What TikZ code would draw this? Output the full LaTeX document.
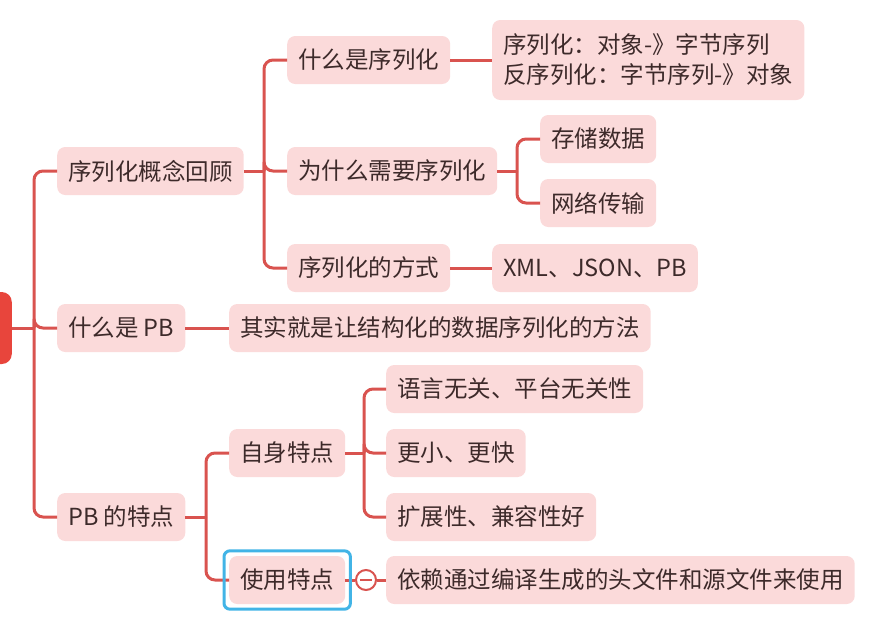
\documentclass[tikz,border=0pt]{standalone}
\usepackage{fontspec}
\setmainfont{Noto Sans CJK SC}
\usepackage{xcolor}
\usetikzlibrary{positioning}

\definecolor{mmred}{HTML}{D9534F}
\definecolor{mmroot}{HTML}{E8453C}
\definecolor{mmpink}{HTML}{FBDADA}
\definecolor{mmtext}{HTML}{3D2A2A}
\definecolor{mmblue}{HTML}{42B4E6}

\begin{document}
\begin{tikzpicture}[x=1pt, y=-1pt,
    topic/.style={fill=mmpink, text=mmtext, rounded corners=8pt, minimum height=48pt,
        inner xsep=11pt, inner ysep=0pt, anchor=west, font=\fontsize{23.5}{30}\selectfont},
    link/.style={draw=mmred, line width=3pt, rounded corners=9pt}]
    \useasboundingbox (0,0) rectangle (876,625);

    % Nodes
    \node[fill=mmroot, rounded corners=10pt, minimum width=40pt, minimum height=72pt, anchor=east] (root) at (12,328) {};

    \node[topic] (review) at (57,171) {序列化概念回顾};
    \node[topic] (whatpb) at (57,328) {什么是 PB};
    \node[topic] (feat)   at (57,517) {PB 的特点};

    \node[topic] (what) at (287,60)  {什么是序列化};
    \node[topic] (why)  at (287,171) {为什么需要序列化};
    \node[topic] (ways) at (287,268) {序列化的方式};

    \node[topic, align=left, minimum height=80pt] (defn) at (492,60) {序列化：对象-》字节序列\\反序列化：字节序列-》对象};
    \node[topic] (store) at (540,139) {存储数据};
    \node[topic] (net)   at (540,203) {网络传输};
    \node[topic] (fmt)   at (492,268) {XML、JSON、PB};

    \node[topic] (pbdef) at (229,328) {其实就是让结构化的数据序列化的方法};

    \node[topic] (self) at (229,453) {自身特点};
    \node[topic] (use)  at (229,580) {使用特点};

    \node[topic] (lang)  at (386,389) {语言无关、平台无关性};
    \node[topic] (small) at (386,453) {更小、更快};
    \node[topic] (ext)   at (386,517) {扩展性、兼容性好};
    \node[topic] (dep)   at (386,580) {依赖通过编译生成的头文件和源文件来使用};

    % Junctions
    \coordinate (j0) at (34,328);
    \coordinate (j1) at (264,171);
    \coordinate (j2) at (517,171);
    \coordinate (j3) at (206,517);
    \coordinate (j4) at (364,453);

    % Paths
    \draw[link] (root.east) -- (j0);
    \foreach \n in {review, whatpb, feat} \draw[link] (j0) |- (\n.west);

    \draw[link] (review.east) -- (j1);
    \foreach \n in {what, why, ways} \draw[link] (j1) |- (\n.west);

    \draw[link] (what.east) -- (defn.west);
    \draw[link] (why.east) -- (j2);
    \foreach \n in {store, net} \draw[link] (j2) |- (\n.west);
    \draw[link] (ways.east) -- (fmt.west);

    \draw[link] (whatpb.east) -- (pbdef.west);

    \draw[link] (feat.east) -- (j3);
    \foreach \n in {self, use} \draw[link] (j3) |- (\n.west);
    \draw[link] (self.east) -- (j4);
    \foreach \n in {lang, small, ext} \draw[link] (j4) |- (\n.west);

    % Collapse dot and selection
    \node[circle, draw=mmred, fill=white, line width=2pt, minimum size=20pt, inner sep=0pt] (dot) at (366,580) {};
    \draw[mmred, line width=2pt] ([xshift=-6pt]dot.center) -- ([xshift=6pt]dot.center);
    \draw[link] (use.east) -- (dot.west);
    \draw[link] (dot.east) -- (dep.west);
    \draw[mmblue, line width=3pt, rounded corners=6pt] ([shift={(-5,5)}]use.south west) rectangle ([shift={(5,-5)}]use.north east);
\end{tikzpicture}
\end{document}
